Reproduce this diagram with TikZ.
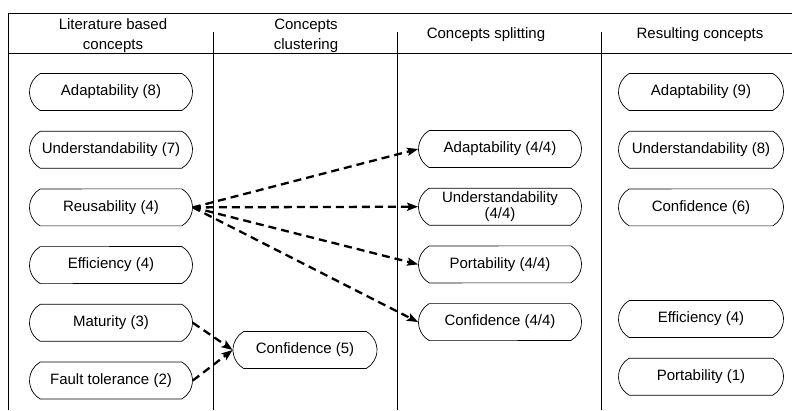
\documentclass[tikz,border=0pt]{standalone}
\usepackage{fontspec}
\setmainfont{Liberation Sans}
\usepackage{tikz}
\usetikzlibrary{shapes.misc, arrows, calc, positioning, arrows.meta}
\tikzstyle{concept} = [rounded rectangle, rounded rectangle arc length=120, draw=black, line width=0.7pt, minimum width=165pt, minimum height=37pt, inner sep=1pt, text centered, align=center, font=\fontsize{15}{16}\selectfont]
\tikzstyle{header} = [align=center, inner sep=0pt, font=\fontsize{15}{20}\selectfont]
\tikzstyle{frame} = [line width=0.8pt]
\tikzstyle{arrow} = [line width=2.3pt, dash pattern=on 8pt off 5pt, -{Stealth[length=11pt,width=8pt,inset=2pt]}]

\begin{document}
\begin{tikzpicture}[x=1pt, y=1pt, node distance = 20pt, auto]
	\useasboundingbox (0,0) rectangle (792,410);
	% table lines
	\draw[frame] (8,0) -- (8,397) -- (792,397);
	\draw[frame] (8,357) -- (792,357);
	\foreach \xcol in {213, 397, 601}
		\draw[frame] (\xcol,378) -- (\xcol,0);
	% column headers
	\node (hLit) [header] at (113,374) {Literature based\\concepts};
	\node (hClu) [header] at (306,374) {Concepts\\clustering};
	\node (hSpl) [header] at (486,375) {Concepts splitting};
	\node (hRes) [header] at (700,375) {Resulting concepts};
	% literature based concepts
	\node (litAdapt) [concept] at (111,318) {Adaptability (8)};
	\node (litUnder) [concept, below=of litAdapt] {Understandability (7)};
	\node (litReuse) [concept, below=of litUnder] {Reusability (4)};
	\node (litEffic) [concept, below=of litReuse] {Efficiency (4)};
	\node (litMatur) [concept, below=of litEffic] {Maturity (3)};
	\node (litFault) [concept, below=of litMatur] {Fault tolerance (2)};
	% clustering
	\node (cluConf) [concept, minimum width=146pt] at (305,60) {Confidence (5)};
	% splitting
	\node (splAdapt) [concept] at (500,261) {Adaptability (4/4)};
	\node (splUnder) [concept, below=of splAdapt, text width=150pt] {Understandability\\(4/4)};
	\node (splPort) [concept, below=of splUnder] {Portability (4/4)};
	\node (splConf) [concept, below=of splPort] {Confidence (4/4)};
	% resulting concepts
	\node (resAdapt) [concept, minimum width=167pt] at (701,318) {Adaptability (9)};
	\node (resUnder) [concept, minimum width=167pt, below=of resAdapt] {Understandability (8)};
	\node (resConf) [concept, minimum width=167pt, below=of resUnder] {Confidence (6)};
	\node (resEffic) [concept, minimum width=167pt] at (701,91) {Efficiency (4)};
	\node (resPort) [concept, minimum width=167pt, below=of resEffic] {Portability (1)};
	% connections
	\foreach \target in {splAdapt, splUnder, splPort, splConf}
		\draw [arrow] (litReuse.east) -- (\target.west);
	\draw [arrow] (litMatur.east) -- (cluConf.west);
	\draw [arrow] (litFault.east) -- (cluConf.west);
\end{tikzpicture}
\end{document}
